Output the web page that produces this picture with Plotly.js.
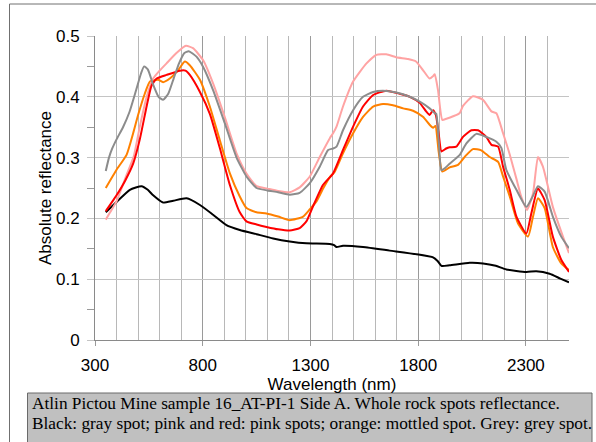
<!DOCTYPE html>
<html>
<head>
<meta charset="utf-8">
<script src="https://cdn.plot.ly/plotly-3.0.1.min.js"></script>
<style>html,body{margin:0;padding:0;background:#fff;}#chart{width:596px;height:442px;}</style>
</head>
<body>
<div id="chart"></div>
<script>
// Black: gray spot
const blackWl = [350,400,462,516,545,570,616,663,725,787,848,910,972,1050,1127,1204,1281,1390,1410,1421,1451,1544,1668,1792,1869,1890,1908,1946,2039,2101,2160,2209,2302,2348,2410,2460,2500];
const blackR  = [0.21,0.227,0.247,0.253,0.247,0.238,0.226,0.229,0.233,0.222,0.206,0.189,0.181,0.174,0.167,0.162,0.159,0.158,0.156,0.153,0.155,0.153,0.147,0.141,0.136,0.13,0.122,0.123,0.127,0.126,0.122,0.116,0.112,0.113,0.109,0.101,0.095];

// Orange: mottled spot
const orangeWl = [350,400,447,477,500,531,555,593,616,647,686,717,740,787,833,879,926,972,1003,1050,1096,1150,1204,1266,1297,1328,1360,1390,1413,1451,1498,1544,1591,1637,1683,1730,1776,1822,1853,1869,1880,1895,1912,1946,1985,2023,2054,2093,2132,2171,2194,2225,2263,2310,2333,2356,2387,2425,2464,2500];
const orangeR  = [0.25,0.28,0.305,0.34,0.37,0.405,0.425,0.428,0.424,0.43,0.444,0.458,0.452,0.428,0.384,0.329,0.274,0.236,0.217,0.21,0.208,0.203,0.197,0.203,0.215,0.228,0.25,0.268,0.277,0.307,0.34,0.367,0.384,0.388,0.386,0.381,0.377,0.367,0.354,0.349,0.352,0.31,0.277,0.284,0.288,0.304,0.314,0.312,0.301,0.293,0.269,0.236,0.192,0.17,0.203,0.233,0.217,0.153,0.126,0.115];

// Pink: pink spot
const pinkWl = [350,370,400,447,480,508,540,570,600,632,678,722,755,802,848,902,957,1003,1050,1100,1150,1204,1250,1297,1343,1390,1405,1421,1451,1498,1560,1606,1652,1698,1753,1790,1822,1853,1869,1877,1892,1912,1931,1962,1992,2008,2054,2101,2140,2163,2194,2225,2256,2279,2305,2333,2356,2379,2425,2472,2500];
const pinkR  = [0.198,0.21,0.228,0.272,0.302,0.351,0.40,0.43,0.443,0.455,0.472,0.484,0.48,0.46,0.422,0.367,0.307,0.274,0.253,0.249,0.245,0.243,0.251,0.269,0.301,0.332,0.34,0.351,0.384,0.425,0.455,0.469,0.47,0.465,0.462,0.458,0.444,0.43,0.434,0.437,0.411,0.362,0.364,0.368,0.373,0.385,0.401,0.395,0.376,0.373,0.34,0.305,0.265,0.235,0.214,0.241,0.301,0.285,0.219,0.17,0.143];

// Red: pink spot
const redWl = [350,385,400,440,477,508,540,562,586,632,694,720,740,787,833,880,926,972,1003,1050,1096,1150,1204,1250,1281,1312,1358,1405,1451,1498,1544,1591,1652,1714,1761,1807,1837,1853,1869,1882,1895,1908,1930,1946,1977,2008,2047,2078,2116,2140,2171,2194,2225,2256,2302,2325,2356,2387,2425,2464,2500];
const redR  = [0.212,0.23,0.238,0.262,0.29,0.33,0.385,0.418,0.43,0.436,0.443,0.443,0.436,0.408,0.372,0.315,0.255,0.21,0.195,0.19,0.186,0.182,0.18,0.184,0.195,0.22,0.255,0.274,0.3125,0.351,0.384,0.403,0.41,0.405,0.40,0.39,0.376,0.37,0.378,0.37,0.34,0.31,0.315,0.317,0.318,0.334,0.345,0.345,0.334,0.321,0.318,0.285,0.247,0.203,0.175,0.208,0.249,0.23,0.17,0.132,0.112];

// Grey: grey spot
const greyWl = [350,365,380,400,430,460,490,515,528,545,570,595,616,640,665,690,715,735,771,802,848,902,957,1003,1050,1100,1150,1204,1250,1297,1343,1382,1405,1421,1451,1498,1544,1591,1637,1699,1761,1807,1853,1877,1884,1895,1908,1925,1946,1992,2023,2070,2116,2163,2186,2209,2256,2302,2330,2356,2387,2425,2464,2500];
const greyR  = [0.278,0.30,0.315,0.33,0.35,0.375,0.41,0.44,0.45,0.445,0.42,0.40,0.395,0.405,0.43,0.455,0.472,0.475,0.466,0.449,0.411,0.357,0.30,0.269,0.25,0.246,0.243,0.239,0.242,0.258,0.285,0.3125,0.315,0.318,0.345,0.378,0.40,0.408,0.41,0.407,0.40,0.392,0.381,0.373,0.372,0.33,0.279,0.283,0.29,0.304,0.323,0.339,0.334,0.326,0.316,0.28,0.247,0.219,0.235,0.253,0.244,0.203,0.17,0.151];

const xTitle = "Wavelength (nm)";
const yTitle = "Absolute reflectance";
const captionLines = [
  "Atlin Pictou Mine sample 16_AT-PI-1 Side A. Whole rock spots reflectance.",
  "Black: gray spot; pink and red: pink spots; orange: mottled spot. Grey: grey spot."
];

function tr(x, y, color, name) {
  return {x: x, y: y, type: 'scatter', mode: 'lines', name: name,
    line: {color: color, width: 2, shape: 'spline', smoothing: 0.5}, hoverinfo: 'skip'};
}
const data = [
  tr(blackWl, blackR, '#000000', 'Black: gray spot'),
  tr(orangeWl, orangeR, '#ff8000', 'Orange: mottled spot'),
  tr(pinkWl, pinkR, '#ffa3a3', 'Pink: pink spot'),
  tr(redWl, redR, '#ff0000', 'Red: pink spot'),
  tr(greyWl, greyR, '#8c8c8c', 'Grey: grey spot')
];

const PL = 95, PR = 27, PT = 36, PB = 102, W = 596, H = 442;
const pw = W - PL - PR, ph = H - PT - PB;
const px = v => (v - PL) / pw;
const py = v => (H - PB - v) / ph;

const capFont = {family: 'Liberation Serif, Times New Roman, serif', size: 17.3, color: '#000'};

const layout = {
  width: W, height: H,
  margin: {l: PL, r: PR, t: PT, b: PB, pad: 0},
  paper_bgcolor: '#ffffff', plot_bgcolor: '#ffffff',
  showlegend: false,
  font: {family: 'Liberation Sans, Arial, sans-serif', size: 17, color: '#000'},
  xaxis: {
    range: [300, 2500], tick0: 300, dtick: 500,
    showgrid: true, gridcolor: '#9a9a9a', gridwidth: 1,
    ticks: 'outside', ticklen: 5, tickcolor: '#9a9a9a',
    showline: true, linecolor: '#8a8a8a', linewidth: 1,
    zeroline: false,
    ticklabelstandoff: 5,
    tickfont: {size: 17},
    minor: {dtick: 100, tick0: 300, showgrid: true, gridcolor: '#b8b8b8', gridwidth: 1, ticks: ''},
    title: {text: xTitle, font: {size: 17}, standoff: 0}
  },
  yaxis: {
    range: [0, 0.5], dtick: 0.1, tick0: 0,
    showgrid: true, gridcolor: '#c4c4c4', gridwidth: 1,
    ticks: 'outside', ticklen: 7, tickcolor: '#c4c4c4',
    showline: true, linecolor: '#8a8a8a', linewidth: 1,
    zeroline: false,
    ticklabelstandoff: 4,
    tickfont: {size: 17},
    minor: {dtick: 0.05, tick0: 0, showgrid: false, ticks: 'outside', ticklen: 7, tickcolor: '#9a9a9a'},
    title: {text: yTitle, font: {size: 17}, standoff: 0}
  },
  shapes: [
    {type: 'rect', xref: 'paper', yref: 'paper', x0: px(9.5), x1: px(700), y0: py(700), y1: py(4),
     line: {color: '#707070', width: 1}, fillcolor: 'rgba(0,0,0,0)', layer: 'below'},
    {type: 'rect', xref: 'paper', yref: 'paper', x0: px(27.5), x1: px(592), y0: py(470), y1: py(393),
     line: {color: '#6a6a6a', width: 1}, fillcolor: '#c0c0c0', layer: 'above'}
  ],
  annotations: [
    {xref: 'paper', yref: 'paper', x: px(30), y: py(403.5), xanchor: 'left', yanchor: 'middle',
     text: captionLines[0], showarrow: false, align: 'left', font: capFont},
    {xref: 'paper', yref: 'paper', x: px(30), y: py(423.5), xanchor: 'left', yanchor: 'middle',
     text: captionLines[1], showarrow: false, align: 'left', font: capFont}
  ]
};

Plotly.newPlot('chart', data, layout, {staticPlot: true, displayModeBar: false});
</script>
</body>
</html>
